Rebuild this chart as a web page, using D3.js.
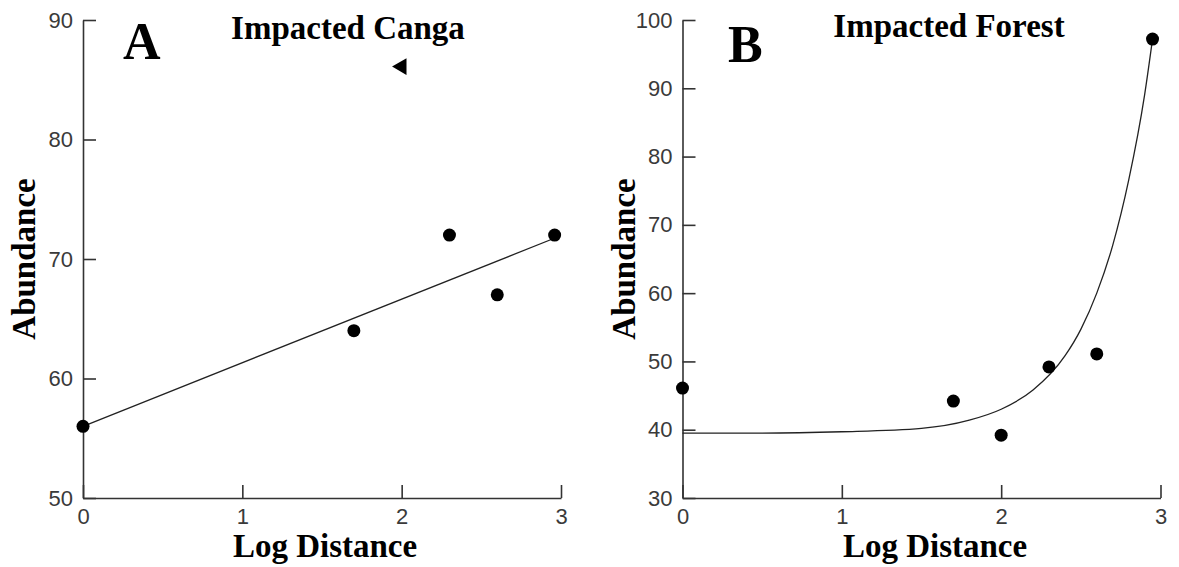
<!DOCTYPE html>
<html>
<head>
<meta charset="utf-8">
<script src="https://cdn.jsdelivr.net/npm/d3@7"></script>
<style>
  html, body { margin: 0; padding: 0; background: #fff; }
  svg { display: block; }
  .tick text { font-family: "Liberation Sans", Arial, sans-serif; font-size: 22px; fill: #3a3a3a; }
  .lbl { font-family: "Liberation Serif", "Times New Roman", serif; font-weight: bold; fill: #000; }
</style>
</head>
<body>
<div id="chart"></div>
<script>
// 数据
const xTicks = [0, 1, 2, 3];

// A: Impacted Canga
const cangaX = [0, 1.7, 2.3, 2.6, 2.96];
const cangaY = [56, 64, 72, 67, 72];
const cangaOutlier = [[2.0, 86.1]];
const cangaFit = [[0, 56], [2.97, 71.8]];
const cangaYTicks = [50, 60, 70, 80, 90];

// B: Impacted Forest
const forestX = [0, 1.7, 2.0, 2.3, 2.6, 2.95];
const forestY = [46.1, 44.2, 39.2, 49.2, 51.1, 97.2];
const forestFit = [
  [0, 39.5], [0.5, 39.5], [1, 39.7], [1.5, 40.2], [1.8, 41.4], [2.0, 43.0],
  [2.2, 45.8], [2.4, 50.8], [2.5, 54.7], [2.6, 60.0], [2.7, 67.0],
  [2.8, 76.5], [2.9, 89.0], [2.95, 97.2]
];
const forestYTicks = [30, 40, 50, 60, 70, 80, 90, 100];

const svg = d3.select("#chart").append("svg")
  .attr("width", 1179)
  .attr("height", 567);

function panel(opt) {
  const x = d3.scaleLinear().domain([0, 3]).range([opt.left, opt.left + 478]);
  const y = d3.scaleLinear().domain(opt.yDomain).range([498, 20]);
  const g = svg.append("g");

  // 坐标轴
  const styleAxis = a => {
    a.select(".domain").attr("stroke", "#333").attr("stroke-width", 1.6);
    a.selectAll(".tick line").attr("stroke", "#333").attr("stroke-width", 1.6);
  };
  g.append("g")
    .attr("transform", `translate(0,${y.range()[0]})`)
    .call(d3.axisBottom(x).tickValues(xTicks).tickSizeInner(-13).tickSizeOuter(0).tickPadding(10).tickFormat(d3.format("d")))
    .call(styleAxis);
  g.append("g")
    .attr("transform", `translate(${opt.left},0)`)
    .call(d3.axisLeft(y).tickValues(opt.yTicks).tickSizeInner(-13).tickSizeOuter(0).tickPadding(10).tickFormat(d3.format("d")))
    .call(styleAxis);

  // 拟合线
  g.append("path")
    .datum(opt.fit)
    .attr("fill", "none")
    .attr("stroke", "#222")
    .attr("stroke-width", 1.3)
    .attr("d", d3.line().x(d => x(d[0])).y(d => y(d[1])).curve(d3.curveMonotoneX));

  // 数据点
  g.selectAll("circle.pt")
    .data(opt.xs.map((v, i) => [v, opt.ys[i]]))
    .join("circle")
    .attr("class", "pt")
    .attr("cx", d => x(d[0]))
    .attr("cy", d => y(d[1]))
    .attr("r", 6.5)
    .attr("fill", "#000");

  if (opt.outliers) {
    g.selectAll("path.tri")
      .data(opt.outliers)
      .join("path")
      .attr("class", "tri")
      .attr("d", d3.symbol(d3.symbolTriangle, 120))
      .attr("transform", d => `translate(${x(d[0])},${y(d[1])}) rotate(-90)`)
      .attr("fill", "#000");
  }

  // 文字
  g.append("text").attr("class", "lbl")
    .attr("x", opt.letterX).attr("y", opt.letterY)
    .attr("font-size", 52)
    .text(opt.letter);
  g.append("text").attr("class", "lbl")
    .attr("x", opt.titleX).attr("y", opt.titleY)
    .attr("text-anchor", "middle")
    .attr("font-size", 33)
    .text(opt.title);
  g.append("text").attr("class", "lbl")
    .attr("x", opt.xLabelX).attr("y", 557)
    .attr("text-anchor", "middle")
    .attr("font-size", 33)
    .text("Log Distance");
  g.append("text").attr("class", "lbl")
    .attr("transform", `translate(${opt.left - 48},259) rotate(-90)`)
    .attr("text-anchor", "middle")
    .attr("font-size", 33)
    .text("Abundance");
}

panel({
  left: 83, yDomain: [50, 90], yTicks: cangaYTicks,
  xs: cangaX, ys: cangaY, fit: cangaFit, outliers: cangaOutlier,
  letter: "A", letterX: 123, letterY: 59,
  title: "Impacted Canga", titleX: 348, titleY: 39,
  xLabelX: 325
});

panel({
  left: 682.5, yDomain: [30, 100], yTicks: forestYTicks,
  xs: forestX, ys: forestY, fit: forestFit,
  letter: "B", letterX: 728, letterY: 62,
  title: "Impacted Forest", titleX: 949, titleY: 37,
  xLabelX: 935
});
</script>
</body>
</html>
